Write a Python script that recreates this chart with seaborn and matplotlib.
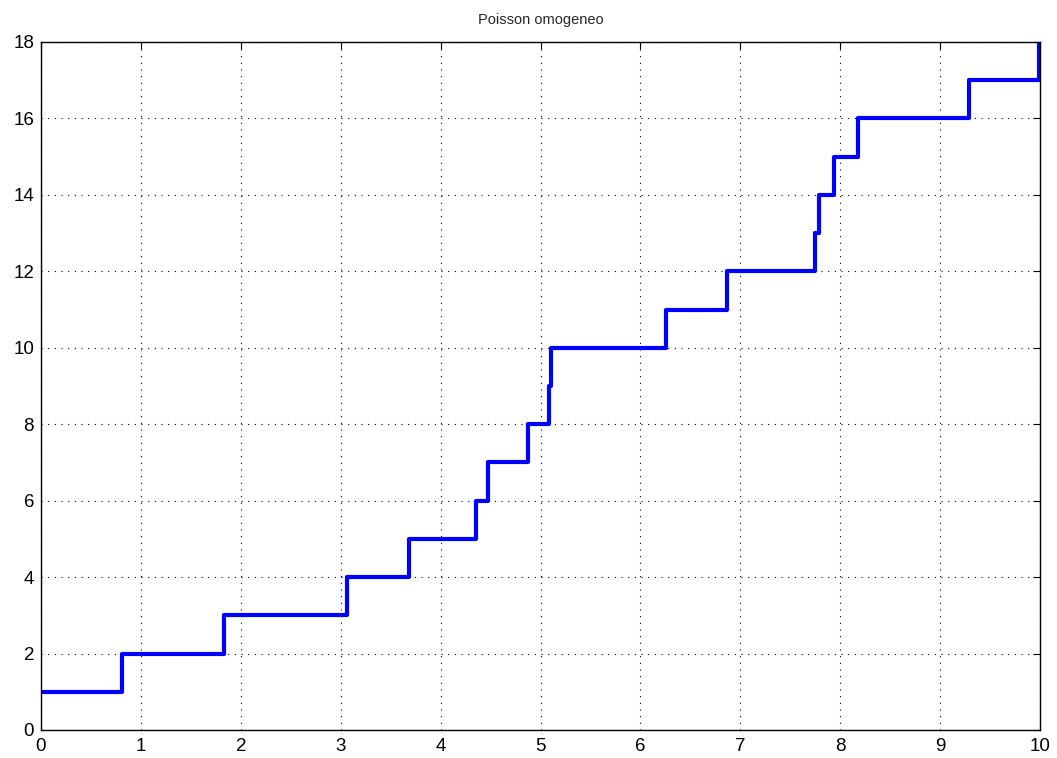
import matplotlib
matplotlib.use("Agg")
import matplotlib.pyplot as plt
import seaborn as sns
import pandas as pd

# Arrival times of the homogeneous Poisson process and the running count
arrival_times = [0.0, 0.81, 1.835, 3.066, 3.68, 4.355, 4.47, 4.87, 5.085, 5.11,
                 6.26, 6.87, 7.75, 7.79, 7.94, 8.18, 9.29, 9.99, 10.0]
counts = [1, 2, 3, 4, 5, 6, 7, 8, 9, 10, 11, 12, 13, 14, 15, 16, 17, 18, 18]

x_ticks = list(range(0, 11))
y_ticks = list(range(0, 19, 2))
title = "Poisson omogeneo"

sns.set_theme(style="white")
plt.rcParams["font.family"] = ["Liberation Sans", "DejaVu Sans"]

fig = plt.figure(figsize=(10.57, 7.58), dpi=100)
ax = fig.add_axes([41 / 1057, 28 / 758, (1040 - 41) / 1057, (730 - 42) / 758])

df = pd.DataFrame({"t": arrival_times, "n": counts})
sns.lineplot(data=df, x="t", y="n", ax=ax, color="#0000ff", linewidth=3.0,
             drawstyle="steps-post", estimator=None, sort=False)

ax.set_xlim(0, 10)
ax.set_ylim(0, 18)
ax.set_xticks(x_ticks)
ax.set_yticks(y_ticks)
ax.set_xlabel("")
ax.set_ylabel("")
ax.grid(True, color="black", linestyle=(0, (1, 5)), linewidth=0.8)
ax.tick_params(direction="in", length=5, width=0.8, top=True, right=True,
               labelsize=13.5, colors="black")
ax.tick_params(axis="x", pad=6)
ax.tick_params(axis="y", pad=5)
for s in ax.spines.values():
    s.set_color("black")
    s.set_linewidth(1.0)
ax.set_title(title, fontsize=10.5, pad=13)

fig.savefig("out.png", dpi=100)
